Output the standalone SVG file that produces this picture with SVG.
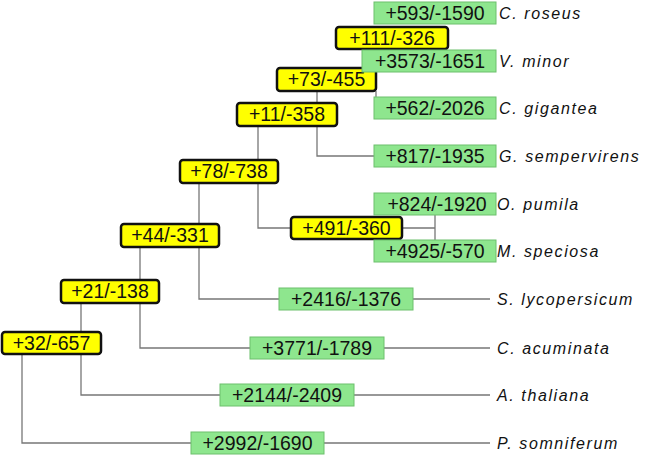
<svg xmlns="http://www.w3.org/2000/svg" width="666" height="456" viewBox="0 0 666 456">
<style>
.in{fill:#ffff00;stroke:#111;stroke-width:2.5}
.lf{fill:#8ee68e;stroke:#6cc06c;stroke-width:1}
.t{font-family:"Liberation Sans",Arial,sans-serif;font-size:19.5px;fill:#111;text-anchor:middle}
.sp{font-family:"Liberation Sans",Arial,sans-serif;font-size:16px;font-style:italic;letter-spacing:1.6px;fill:#111}
#edges path{fill:none;stroke:#777;stroke-width:1.3}
</style>
<rect width="666" height="456" fill="#fff"/>
<g id="edges">
<path d="M22 354V443H191M324 443H490"/>
<path d="M81 354V395H220M354 395H490"/>
<path d="M81 303V332M140 303V348H250M384 348H490"/>
<path d="M140 247V280M199 247V299H279M413 299H490"/>
<path d="M199 183V224M258 183V228H291"/>
<path d="M402 228H435M435 215V240"/>
<path d="M258 126V160M317 126V156H374"/>
<path d="M317 91V103M376 91V108H374"/>
<path d="M376 68V72M376 48V50"/>
</g>
<g id="n111"><rect class="in" x="336" y="27" width="112" height="22" rx="3"/><text class="t" x="392" y="45">+111/-326</text></g>
<g id="n73"><rect class="in" x="277" y="68" width="99" height="23" rx="3"/><text class="t" x="326.5" y="86">+73/-455</text></g>
<g id="n11"><rect class="in" x="237" y="103" width="100" height="23" rx="3"/><text class="t" x="287" y="121">+11/-358</text></g>
<g id="n78"><rect class="in" x="180" y="160" width="98" height="23" rx="3"/><text class="t" x="229" y="178">+78/-738</text></g>
<g id="n491"><rect class="in" x="291" y="217" width="111" height="22" rx="3"/><text class="t" x="346.5" y="235">+491/-360</text></g>
<g id="n44"><rect class="in" x="121" y="224" width="98" height="23" rx="3"/><text class="t" x="170" y="242">+44/-331</text></g>
<g id="n21"><rect class="in" x="61" y="280" width="98" height="23" rx="3"/><text class="t" x="110" y="298">+21/-138</text></g>
<g id="n32"><rect class="in" x="2" y="332" width="99" height="22" rx="3"/><text class="t" x="51.5" y="350">+32/-657</text></g>

<g id="l1"><rect class="lf" x="374" y="2" width="122" height="22"/><text class="t" x="435" y="20">+593/-1590</text><text class="sp" x="499" y="19">C. roseus</text></g>
<g id="l2"><rect class="lf" x="362" y="50" width="134" height="22"/><text class="t" x="430" y="68">+3573/-1651</text><text class="sp" x="499" y="67">V. minor</text></g>
<g id="l3"><rect class="lf" x="374" y="97" width="122" height="22"/><text class="t" x="435" y="115">+562/-2026</text><text class="sp" x="499" y="114">C. gigantea</text></g>
<g id="l4"><rect class="lf" x="374" y="145" width="122" height="22"/><text class="t" x="435" y="163">+817/-1935</text><text class="sp" x="499" y="162">G. sempervirens</text></g>
<g id="l5"><rect class="lf" x="374" y="193" width="122" height="22"/><text class="t" x="437" y="211">+824/-1920</text><text class="sp" x="497" y="210">O. pumila</text></g>
<g id="l6"><rect class="lf" x="374" y="240" width="122" height="22"/><text class="t" x="435" y="258">+4925/-570</text><text class="sp" x="497" y="257">M. speciosa</text></g>
<g id="l7"><rect class="lf" x="279" y="288" width="134" height="22"/><text class="t" x="346" y="306">+2416/-1376</text><text class="sp" x="497" y="305">S. lycopersicum</text></g>
<g id="l8"><rect class="lf" x="250" y="337" width="134" height="22"/><text class="t" x="317" y="355">+3771/-1789</text><text class="sp" x="497" y="354">C. acuminata</text></g>
<g id="l9"><rect class="lf" x="220" y="384" width="134" height="22"/><text class="t" x="287" y="402">+2144/-2409</text><text class="sp" x="497" y="401">A. thaliana</text></g>
<g id="l10"><rect class="lf" x="191" y="432" width="133" height="22"/><text class="t" x="257.5" y="450">+2992/-1690</text><text class="sp" x="497" y="449">P. somniferum</text></g>
</svg>
